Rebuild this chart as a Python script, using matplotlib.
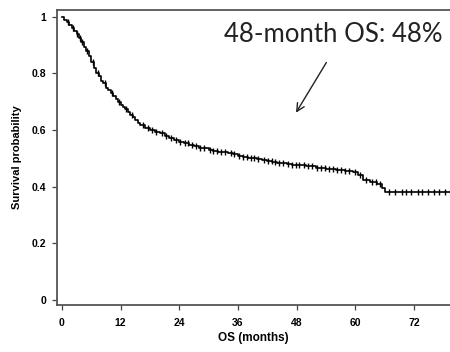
import numpy as np
import matplotlib
matplotlib.use("Agg")
import matplotlib.pyplot as plt

# Kaplan-Meier overall survival: step times (months) and survival after each step
km_time = [0, 0.5, 1, 1.5, 2, 2.5, 3, 3.5, 4, 4.5, 5, 5.5, 6, 6.5, 7, 7.5, 8, 8.5,
           9, 9.5, 10, 10.5, 11, 11.5, 12, 12.5, 13, 13.5, 14, 14.5, 15, 15.5, 16,
           17, 18, 19, 20, 21, 22, 23, 24, 25, 26, 27, 28, 29, 30, 31, 32, 33, 34,
           35, 36, 37, 38, 39, 40, 41, 42, 43, 44, 45, 46, 47, 48, 50, 52, 54, 56,
           58, 59.5, 60.5, 61.5, 63, 64.5, 65.5, 66.2]
km_surv = [1.0, 0.99, 0.98, 0.97, 0.96, 0.95, 0.94, 0.925, 0.91, 0.895, 0.88, 0.86,
           0.84, 0.82, 0.80, 0.79, 0.775, 0.765, 0.75, 0.74, 0.73, 0.72, 0.71, 0.70,
           0.69, 0.68, 0.675, 0.665, 0.655, 0.645, 0.635, 0.625, 0.617, 0.607, 0.60,
           0.595, 0.59, 0.58, 0.572, 0.565, 0.558, 0.553, 0.548, 0.543, 0.538, 0.535,
           0.531, 0.527, 0.524, 0.521, 0.518, 0.514, 0.51, 0.506, 0.503, 0.50, 0.497,
           0.494, 0.491, 0.488, 0.485, 0.483, 0.48, 0.478, 0.476, 0.472, 0.466, 0.462,
           0.459, 0.455, 0.452, 0.44, 0.425, 0.418, 0.41, 0.395, 0.381]
follow_up_end = 79.5

# censored observations (months)
censor_time = [1.2, 2.2, 3.1, 3.8, 4.2, 5.1, 6.3, 7.4, 8.8, 10.2, 11.6, 13.1, 14.4,
               16.5, 17.6, 18.4, 19.3, 20.5, 21.2, 22.4, 23.3, 24.2, 25.1, 25.8, 26.6,
               27.4, 28.3, 29.1, 30.2, 31.0, 31.8, 32.6, 33.4, 34.6, 35.3, 36.2, 37.1,
               37.8, 38.6, 39.4, 40.2, 41.3, 42.1, 42.9, 43.7, 44.5, 45.3, 46.2, 47.0,
               47.8, 48.6, 49.5, 50.4, 51.2, 52.1, 53.0, 53.8, 54.6, 55.4, 56.3, 57.1,
               58.0, 58.8, 60.0, 61.0, 62.2, 63.5, 64.2, 65.0, 67.0, 68.2, 69.5, 70.3,
               71.5, 72.8, 73.6, 74.9, 76.1, 77.2, 78.4]

x_ticks = [0, 12, 24, 36, 48, 60, 72]
y_ticks = [0, 0.2, 0.4, 0.6, 0.8, 1]
y_labels = ["0", "0.2", "0.4", "0.6", "0.8", "1"]

fig = plt.figure(figsize=(4.5, 3.52), dpi=100)
ax = fig.add_axes([57 / 450, 1 - 305 / 352, 1 - 57 / 450, 295 / 352])

step_t = km_time + [follow_up_end]
step_s = km_surv + [km_surv[-1]]
ax.step(step_t, step_s, where="post", color="black", lw=1.2)

# censor ticks sit on the curve at the survival level at that time
idx = np.searchsorted(km_time, censor_time, side="right") - 1
censor_s = np.array(km_surv)[idx]
ax.plot(censor_time, censor_s, linestyle="none", marker="|", color="black",
        markersize=4.5, markeredgewidth=1.0)

ax.set_xlim(-1.0, 79.4)
ax.set_ylim(-0.0176, 1.024)
ax.set_xticks(x_ticks)
ax.set_yticks(y_ticks)
ax.set_yticklabels(y_labels)

bold = dict(family="Liberation Sans", weight="bold")
for lab in ax.get_xticklabels() + ax.get_yticklabels():
    lab.set_fontfamily("Liberation Sans")
    lab.set_fontweight("bold")
    lab.set_fontsize(7.5)
ax.tick_params(direction="out", length=3.5, width=0.9, color="#444444", pad=4)
ax.tick_params(axis="x", pad=6)

ax.set_xlabel("OS (months)", fontsize=8.5, labelpad=3, **bold)
ax.set_ylabel("Survival probability", fontsize=8, labelpad=7, **bold)

ax.spines["right"].set_visible(False)
for side in ["left", "bottom", "top"]:
    ax.spines[side].set_color("#555555")
    ax.spines[side].set_linewidth(1.3)

ax.text(442, 352 - 35, "48-month OS: 48%", transform=None, ha="right",
        va="center", fontsize=18.5, family="Lato", color="#222222")
ax.annotate("", xy=(47.6, 0.653), xytext=(54.4, 0.847),
            arrowprops=dict(arrowstyle="->", color="#222222", lw=1.0,
                            mutation_scale=14))

fig.savefig("out.png", dpi=100)
